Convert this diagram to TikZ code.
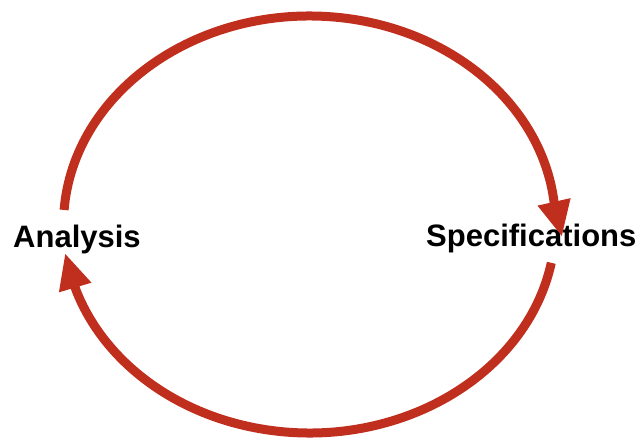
\documentclass[tikz,border=0pt]{standalone}
\usepackage{fontspec}
\setmainfont{Liberation Sans}
\usetikzlibrary{arrows.meta}
\definecolor{cyclered}{RGB}{192,46,30}
\begin{document}
\begin{tikzpicture}[x=1pt,y=1pt,
  cycleline/.style={draw=cyclered, line width=9pt,
    -{Triangle[length=36pt,width=31pt]}, fill=none},
  label/.style={anchor=base west, inner sep=0pt, text=black,
    font=\fontsize{31}{36}\selectfont\bfseries}]
  \useasboundingbox (0,0) rectangle (641,443);
  % centre of the cycle and the two arrow tips
  \coordinate (C) at (309.5,218.5);
  \coordinate (specTip) at (562,206);
  \coordinate (anaTip) at (65,190);
  % labels
  \node[label] (ana) at (13,195) {Analysis};
  \node[label] (spec) at (426,196) {Specifications};
  % upper half: Analysis -> Specifications
  \draw[cycleline] (C) ++(176:246 and 208.5)
    arc[start angle=176, end angle=6.2, x radius=246, y radius=208.5]
    -- (specTip);
  % lower half: Specifications -> Analysis
  \draw[cycleline] (C) ++(-10.6:246 and 208.5)
    arc[start angle=-10.6, end angle=-161.7, x radius=246, y radius=208.5]
    -- (anaTip);
\end{tikzpicture}
\end{document}
